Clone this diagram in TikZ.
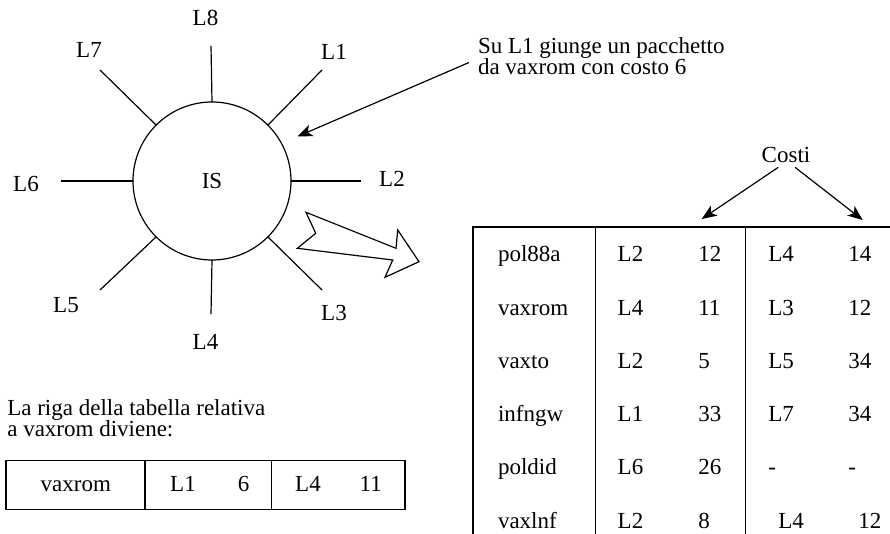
\documentclass[tikz,border=0pt]{standalone}
\usepackage{fontspec}
\setmainfont{Liberation Serif}
\usetikzlibrary{arrows.meta}
\begin{document}
\begin{tikzpicture}[x=1pt,y=-1pt,
  txt/.style={font=\fontsize{23}{26}\selectfont, inner sep=0pt, outer sep=0pt},
  lbl/.style={txt, anchor=base},
  lw/.style={txt, anchor=base west},
  ln/.style={line width=1.2pt},
  arr/.style={ln, -{Stealth[length=15pt,width=12pt,inset=4pt]}},
]
\useasboundingbox (0,0) rectangle (890,534);

% switch IS
\node[circle, draw, ln, minimum size=158pt, txt] (IS) at (212,181) {IS};
\coordinate (e8) at (211,46);
\coordinate (e4) at (211,314);
\coordinate (e6) at (61,181);
\coordinate (e2) at (361,181);
\coordinate (e1) at (322,70);
\coordinate (e7) at (100,70);
\coordinate (e5) at (100,290);
\coordinate (e3) at (322,290);
\draw[ln] (IS.north) -- (e8);
\draw[ln] (IS.south) -- (e4);
\draw[ln] (IS.west) -- (e6);
\draw[ln] (IS.east) -- (e2);
\draw[ln] (IS.45) -- (e1);
\draw[ln] (IS.135) -- (e7);
\draw[ln] (IS.225) -- (e5);
\draw[ln] (IS.315) -- (e3);

\node[lbl] (l8) at (205.5,26) {L8};
\node[lbl] (l7) at (89,57.3) {L7};
\node[lbl] (l1) at (334,59.3) {L1};
\node[lbl] (l6) at (26,191.3) {L6};
\node[lbl] (l2) at (392,186.7) {L2};
\node[lbl] (l5) at (66,312.3) {L5};
\node[lbl] (l4) at (205.5,349) {L4};
\node[lbl] (l3) at (334,320) {L3};

% annotation
\node[lw] (n1) at (478,53.3) {Su L1 giunge un pacchetto};
\node[lw] (n2) at (478,75) {da vaxrom con costo 6};
\coordinate (a0) at (469,62.5);
\coordinate (a1) at (297.5,136.5);
\draw[arr] (a0) -- (a1);

% hollow arrow
\draw[ln, line join=miter] (306,212.3) -- (396,248.3) -- (397.7,230) -- (419,261.7)
  -- (385,277.3) -- (392.7,260) -- (297.3,248.3) -- (315.7,233.3) -- cycle;

% routing table
\draw[ln] (890,227) -- (473,227) -- (473,534);
\draw[ln] (595.7,227) -- (595.7,534);
\draw[ln] (745.7,227) -- (745.7,534);

\node[lbl] (costi) at (786,162.7) {Costi};
\coordinate (c0) at (778.3,167.3);
\coordinate (c1) at (701.7,219);
\coordinate (c2) at (795,167.3);
\coordinate (c3) at (862.7,220);
\draw[arr] (c0) -- (c1);
\draw[arr] (c2) -- (c3);

\foreach \i/\n/\la/\ca/\lb/\cb in {0/pol88a/L2/12/L4/14, 1/vaxrom/L4/11/L3/12,
    2/vaxto/L2/5/L5/34, 3/infngw/L1/33/L7/34, 4/poldid/L6/26/-/-}{
  \node[lw] (r\i n) at (498,261.7+53.3*\i) {\n};
  \node[lw] (r\i a) at (617.7,261.7+53.3*\i) {\la};
  \node[lw] (r\i b) at (698.3,261.7+53.3*\i) {\ca};
  \node[lw] (r\i c) at (768.3,261.7+53.3*\i) {\lb};
  \node[lw] (r\i d) at (848.3,261.7+53.3*\i) {\cb};
}
\node[lw] (r5n) at (498,528.2) {vaxlnf};
\node[lw] (r5a) at (617.7,528.2) {L2};
\node[lw] (r5b) at (698.3,528.2) {8};
\node[lw] (r5c) at (778.3,528.2) {L4};
\node[lw] (r5d) at (858.3,528.2) {12};

% new row
\node[lw] (b1) at (7.3,415) {La riga della tabella relativa};
\node[lw] (b2) at (7.3,436.7) {a vaxrom diviene:};
\draw[ln] (6,460.7) rectangle (405,509.3);
\draw[ln] (145,460.7) -- (145,509.3);
\draw[ln] (271.7,460.7) -- (271.7,509.3);
\node[lbl] (v0) at (75.8,491) {vaxrom};
\node[lbl] (v1) at (183,491) {L1};
\node[lbl] (v2) at (243.5,491) {6};
\node[lbl] (v3) at (308,491) {L4};
\node[lbl] (v4) at (370.8,491) {11};
\end{tikzpicture}
\end{document}
